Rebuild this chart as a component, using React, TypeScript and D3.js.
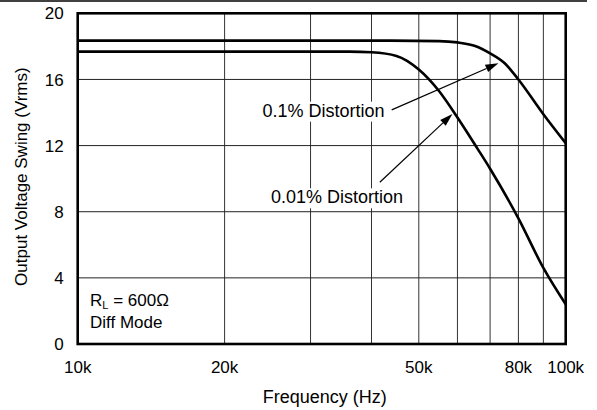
import React from "react";
import * as d3 from "d3";

const xTickValues = [10000, 20000, 50000, 80000, 100000];
const xTickLabels = ["10k", "20k", "50k", "80k", "100k"];
const xGridValues = [20000, 30000, 40000, 50000, 60000, 70000, 80000, 90000];
const yTickValues = [0, 4, 8, 12, 16, 20];

const freq01 = [10000, 40000, 55000, 60000, 65000, 70000, 75000, 80000, 90000, 100000];
const volt01 = [18.35, 18.35, 18.32, 18.24, 18.04, 17.58, 16.98, 16.0, 13.9, 12.15];

const freq001 = [10000, 36000, 40000, 45000, 50000, 55000, 60000, 66000, 70000, 80000, 90000, 100000];
const volt001 = [17.68, 17.68, 17.64, 17.42, 16.6, 15.3, 13.7, 11.8, 10.6, 7.6, 4.6, 2.4];

const labels = [
  { text: "0.1% Distortion", f: 31900, v: 13.75, from: [44000, 14.16], to: [72800, 16.98] },
  { text: "0.01% Distortion", f: 34000, v: 8.51, from: [41600, 9.78], to: [58600, 13.91] },
];

const W = 597;
const H = 410;
const M = { left: 77.7, right: 31.3, top: 13.3, bottom: 66 };
const FONT = "'Liberation Sans', Arial, Helvetica, sans-serif";

export default function App() {
  const x = d3.scaleLog().domain([10000, 100000]).range([M.left, W - M.right]);
  const y = d3.scaleLinear().domain([0, 20]).range([H - M.bottom, M.top]);
  const mk = (fs: number[], vs: number[]) =>
    d3
      .line<[number, number]>()
      .x((d) => x(d[0]))
      .y((d) => y(d[1]))
      .curve(d3.curveMonotoneX)(fs.map((f, i) => [f, vs[i]]) as [number, number][]) || "";

  const x0 = M.left;
  const x1 = W - M.right;
  const y0 = H - M.bottom;
  const y1 = M.top;

  const arrow = (from: number[], to: number[]) => {
    const ax = x(from[0]);
    const ay = y(from[1]);
    const bx = x(to[0]);
    const by = y(to[1]);
    const ang = Math.atan2(by - ay, bx - ax);
    const L = 13;
    const Wd = 4;
    const cx = bx - L * Math.cos(ang);
    const cy = by - L * Math.sin(ang);
    const p1 = [cx + Wd * Math.sin(ang), cy - Wd * Math.cos(ang)];
    const p2 = [cx - Wd * Math.sin(ang), cy + Wd * Math.cos(ang)];
    return (
      <g>
        <line x1={ax} y1={ay} x2={cx} y2={cy} stroke="#000" strokeWidth={1.2} />
        <path d={`M${bx},${by}L${p1[0]},${p1[1]}L${p2[0]},${p2[1]}Z`} fill="#000" />
      </g>
    );
  };

  return (
    <svg
      width={W}
      height={H}
      style={{ position: "absolute", left: 0, top: 0, background: "#fff" }}
      fontFamily={FONT}
    >
      <rect x={0} y={0} width={W} height={H} fill="#fff" />
      <line x1={0} x2={587} y1={1} y2={1} stroke="#000" strokeWidth={1.5} />
      {xGridValues.map((v) => (
        <line key={"gx" + v} x1={x(v)} x2={x(v)} y1={y1} y2={y0} stroke="#333" strokeWidth={1} />
      ))}
      {yTickValues.slice(1, -1).map((v) => (
        <line key={"gy" + v} x1={x0} x2={x1} y1={y(v)} y2={y(v)} stroke="#222" strokeWidth={1} />
      ))}
      {labels.map((l) => (
        <g key={l.text}>
          <rect x={x(l.f) - 72} y={y(l.v) - 15} width={144} height={20} fill="#fff" />
          <text x={x(l.f)} y={y(l.v)} textAnchor="middle" fontSize={18} fill="#000">
            {l.text}
          </text>
        </g>
      ))}
      <path d={mk(freq01, volt01)} fill="none" stroke="#000" strokeWidth={2.6} />
      <path d={mk(freq001, volt001)} fill="none" stroke="#000" strokeWidth={2.6} />
      {labels.map((l) => (
        <g key={"a" + l.text}>{arrow(l.from, l.to)}</g>
      ))}
      <rect x={x0} y={y1} width={x1 - x0} height={y0 - y1} fill="none" stroke="#000" strokeWidth={2.6} />
      <text x={x(10600)} y={y(2.3)} fontSize={17} fill="#000">
        R<tspan fontSize={11} dy={3}>L</tspan>
        <tspan dy={-3}> = 600Ω</tspan>
      </text>
      <text x={x(10600)} y={y(0.97)} fontSize={17} fill="#000">
        Diff Mode
      </text>
      {yTickValues.map((v) => (
        <text key={"yt" + v} x={x0 - 14} y={y(v)} dy="0.36em" textAnchor="end" fontSize={17} fill="#000">
          {v}
        </text>
      ))}
      {xTickValues.map((v, i) => (
        <text key={"xt" + v} x={x(v)} y={y0 + 29} textAnchor="middle" fontSize={17} fill="#000">
          {xTickLabels[i]}
        </text>
      ))}
      <text x={(x0 + x1) / 2 + 3} y={H - 7} textAnchor="middle" fontSize={18} fill="#000">
        Frequency (Hz)
      </text>
      <text
        transform={`translate(27,${(y0 + y1) / 2 - 2}) rotate(-90)`}
        textAnchor="middle"
        fontSize={17}
        fill="#000"
      >
        Output Voltage Swing (Vrms)
      </text>
    </svg>
  );
}
